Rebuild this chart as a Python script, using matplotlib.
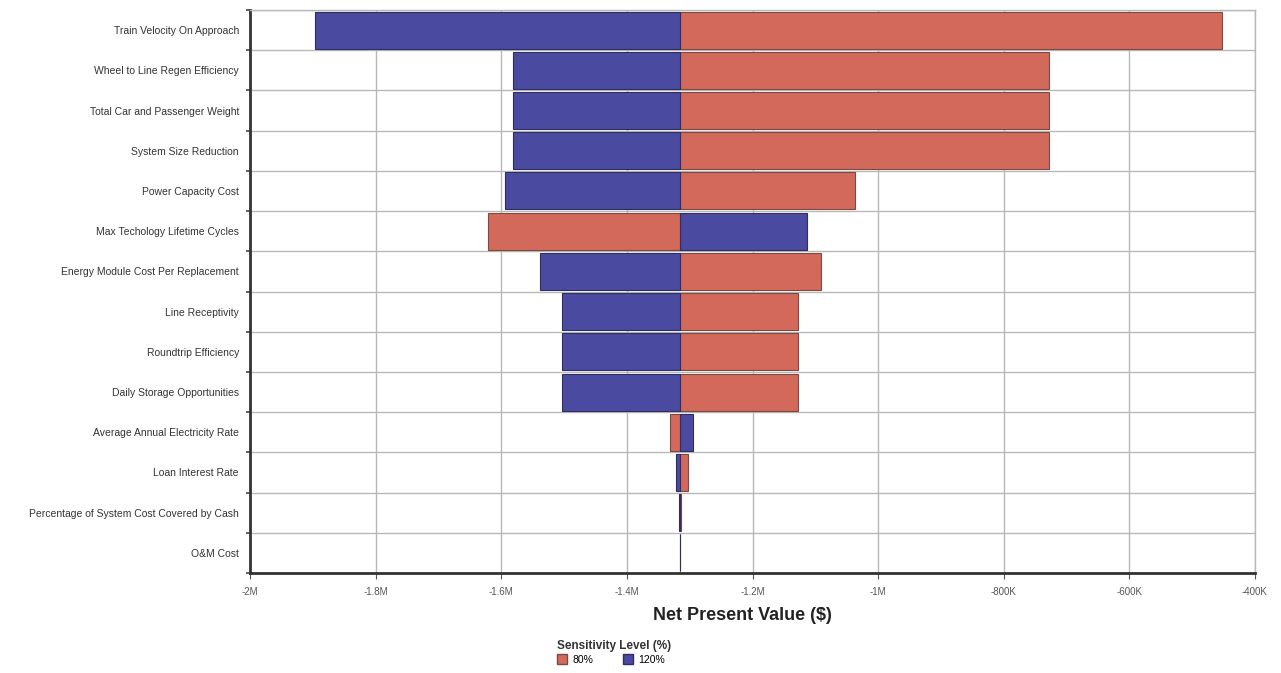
import matplotlib
matplotlib.use("Agg")
import matplotlib.pyplot as plt
from matplotlib.patches import Patch
import numpy as np

plt.rcParams['font.family'] = ['Liberation Sans', 'DejaVu Sans']

categories = [
    "Train Velocity On Approach",
    "Wheel to Line Regen Efficiency",
    "Total Car and Passenger Weight",
    "System Size Reduction",
    "Power Capacity Cost",
    "Max Techology Lifetime Cycles",
    "Energy Module Cost Per Replacement",
    "Line Receptivity",
    "Roundtrip Efficiency",
    "Daily Storage Opportunities",
    "Average Annual Electricity Rate",
    "Loan Interest Rate",
    "Percentage of System Cost Covered by Cash",
    "O&M Cost",
]
base_npv = -1315000
npv_80 = [-452000, -728000, -728000, -728000, -1037000, -1621000, -1091000,
          -1127000, -1127000, -1127000, -1331000, -1303000, -1314000, -1315300]
npv_120 = [-1897000, -1581000, -1581000, -1581000, -1594000, -1113000, -1538000,
           -1503000, -1503000, -1503000, -1295000, -1322000, -1317000, -1314700]
xticks = [-2000000, -1800000, -1600000, -1400000, -1200000, -1000000, -800000, -600000, -400000]
xticklabels = ['-2M', '-1.8M', '-1.6M', '-1.4M', '-1.2M', '-1M', '-800K', '-600K', '-400K']

red = '#D2695B'
blue = '#4A4AA0'

fig = plt.figure(figsize=(12.81, 6.73), dpi=100)
ax = fig.add_axes([0.1952, 0.1486, 0.7845, 0.8365])

y = np.arange(len(categories))
w80 = np.array(npv_80) - base_npv
w120 = np.array(npv_120) - base_npv
h = 0.92
ax.barh(y, w80, left=base_npv, height=h, color=red, edgecolor='#7a4a44', linewidth=0.8, zorder=3)
ax.barh(y, w120, left=base_npv, height=h, color=blue, edgecolor='#2e2e60', linewidth=0.8, zorder=3)

ax.set_xlim(-2000000, -400000)
ax.set_ylim(len(categories) - 0.5, -0.5)
ax.set_xticks(xticks)
ax.set_xticklabels(xticklabels, fontsize=7, color='#555555')
ax.set_yticks(y)
ax.set_yticklabels(categories, fontsize=7.5, color='#333333')
ax.tick_params(axis='y', length=0, pad=8)
ax.tick_params(axis='x', length=4, width=0.8, color='#555555', pad=6)
ax.set_yticks(np.arange(-0.5, len(categories), 1), minor=True)
ax.tick_params(axis='y', which='minor', length=3, width=1.2, color='#444444')
ax.grid(axis='x', color='#b8b8b8', linewidth=1.0, zorder=0)
ax.grid(axis='y', which='minor', color='#b8b8b8', linewidth=1.0, zorder=0)
ax.grid(axis='y', which='major', visible=False)

for s in ['top', 'right']:
    ax.spines[s].set_color('#b8b8b8')
    ax.spines[s].set_linewidth(1.0)
for s in ['left', 'bottom']:
    ax.spines[s].set_color('#333333')
    ax.spines[s].set_linewidth(2.0)

ax.set_xlabel('Net Present Value ($)', fontsize=13, fontweight='bold', labelpad=10, color='#222222')
ax.xaxis.set_label_coords(0.49, -0.06)

handles = [Patch(facecolor=red, edgecolor='#7a4a44', label='80%'),
           Patch(facecolor=blue, edgecolor='#2e2e60', label='120%')]
leg = fig.legend(handles=handles, loc='upper left', bbox_to_anchor=(0.430, 0.058),
                 ncol=2, frameon=False, fontsize=7.5, title='Sensitivity Level (%)',
                 title_fontproperties={'weight': 'bold', 'size': 8.5}, alignment='left',
                 handlelength=1.0, handleheight=1.0, handletextpad=0.5, columnspacing=2.8,
                 borderpad=0.1, labelspacing=0.2)
leg.get_title().set_color('#333333')

fig.savefig('out.png', dpi=100)
